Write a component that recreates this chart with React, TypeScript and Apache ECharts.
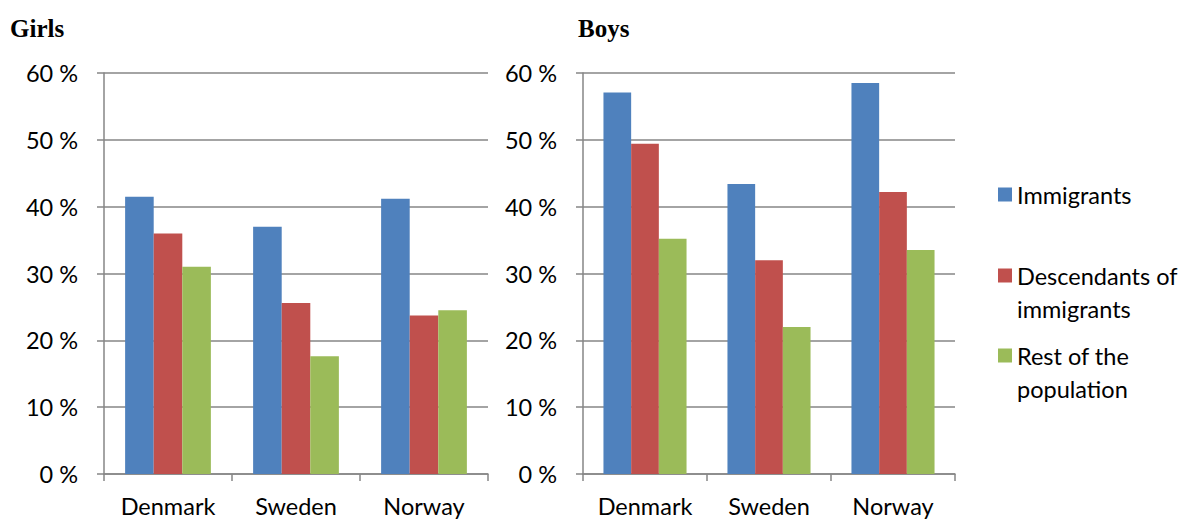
import React, { useEffect, useRef } from "react";
import * as echarts from "echarts";

const categories = ["Denmark", "Sweden", "Norway"];
const seriesNames = ["Immigrants", "Descendants of immigrants", "Rest of the population"];
const legendLabels = ["Immigrants", "\nDescendants of\nimmigrants", "\nRest of the\npopulation"];
const girlsImmigrants = [41.5, 37.0, 41.2];
const girlsDescendants = [36.0, 25.6, 23.7];
const girlsRest = [31.0, 17.6, 24.5];
const boysImmigrants = [57.1, 43.4, 58.5];
const boysDescendants = [49.4, 32.0, 42.2];
const boysRest = [35.2, 22.0, 33.5];
const yTicks = { min: 0, max: 60, interval: 10 };
const colors = ["#4F81BD", "#C0504D", "#9BBB59"];

const FONT = "Lato, 'Liberation Sans', sans-serif";
const GRAY = "#868686";
const FS = 23.5;

export default function App() {
  const ref = useRef<HTMLDivElement>(null);
  useEffect(() => {
    if (!ref.current) return;
    const chart = echarts.init(ref.current, null, { renderer: "svg" });
    const grids = [
      { left: 104, top: 73, width: 384, height: 401 },
      { left: 583, top: 73, width: 372, height: 401 },
    ];
    const xAxis = grids.map((_, i) => ({
      type: "category",
      gridIndex: i,
      data: categories,
      axisLine: { show: true, lineStyle: { color: GRAY, width: 1.5 } },
      axisTick: { show: true, length: 7, lineStyle: { color: GRAY, width: 1.5 } },
      axisLabel: { color: "#000", fontSize: FS, fontFamily: FONT, margin: 20, interval: 0, hideOverlap: false },
    }));
    const yAxis = grids.map((_, i) => ({
      type: "value",
      gridIndex: i,
      min: yTicks.min,
      max: yTicks.max,
      interval: yTicks.interval,
      axisLine: { show: true, lineStyle: { color: GRAY, width: 1.5 } },
      axisTick: { show: true, length: 7, lineStyle: { color: GRAY, width: 1.5 } },
      splitLine: { show: true, lineStyle: { color: GRAY, width: 1.5 } },
      axisLabel: {
        color: "#000",
        fontSize: FS,
        fontFamily: FONT,
        margin: 26,
        formatter: (v: number) => `${v} %`,
      },
    }));
    const girls = [girlsImmigrants, girlsDescendants, girlsRest];
    const boys = [boysImmigrants, boysDescendants, boysRest];
    const series: any[] = [];
    [girls, boys].forEach((set, gi) => {
      set.forEach((data, si) => {
        series.push({
          type: "bar",
          name: seriesNames[si],
          xAxisIndex: gi,
          yAxisIndex: gi,
          data,
          barGap: "0%",
          barCategoryGap: "33%",
          itemStyle: { color: colors[si] },
          emphasis: { disabled: true },
        });
      });
    });
    const legendTops = [178, 226, 306];
    const legend = seriesNames.map((name, i) => ({
      data: [name],
      left: 998,
      top: legendTops[i],
      padding: 0,
      itemWidth: 14,
      itemHeight: 14,
      icon: "rect",
      selectedMode: false,
      formatter: () => legendLabels[i],
      textStyle: {
        color: "#000",
        fontSize: FS,
        fontFamily: FONT,
        lineHeight: 33,
      },
    }));
    chart.setOption({
      animation: false,
      grid: grids,
      xAxis,
      yAxis,
      series,
      legend,
      title: [
        {
          text: "Girls",
          left: 10,
          top: 16,
          padding: 0,
          textStyle: { fontFamily: "'Liberation Serif', serif", fontWeight: "bold", fontSize: 25, color: "#000" },
        },
        {
          text: "Boys",
          left: 578,
          top: 16,
          padding: 0,
          textStyle: { fontFamily: "'Liberation Serif', serif", fontWeight: "bold", fontSize: 25, color: "#000" },
        },
      ],
    });
    return () => chart.dispose();
  }, []);
  return <div ref={ref} style={{ width: 1187, height: 520, position: "absolute", left: 0, top: 0, background: "#fff" }} />;
}
